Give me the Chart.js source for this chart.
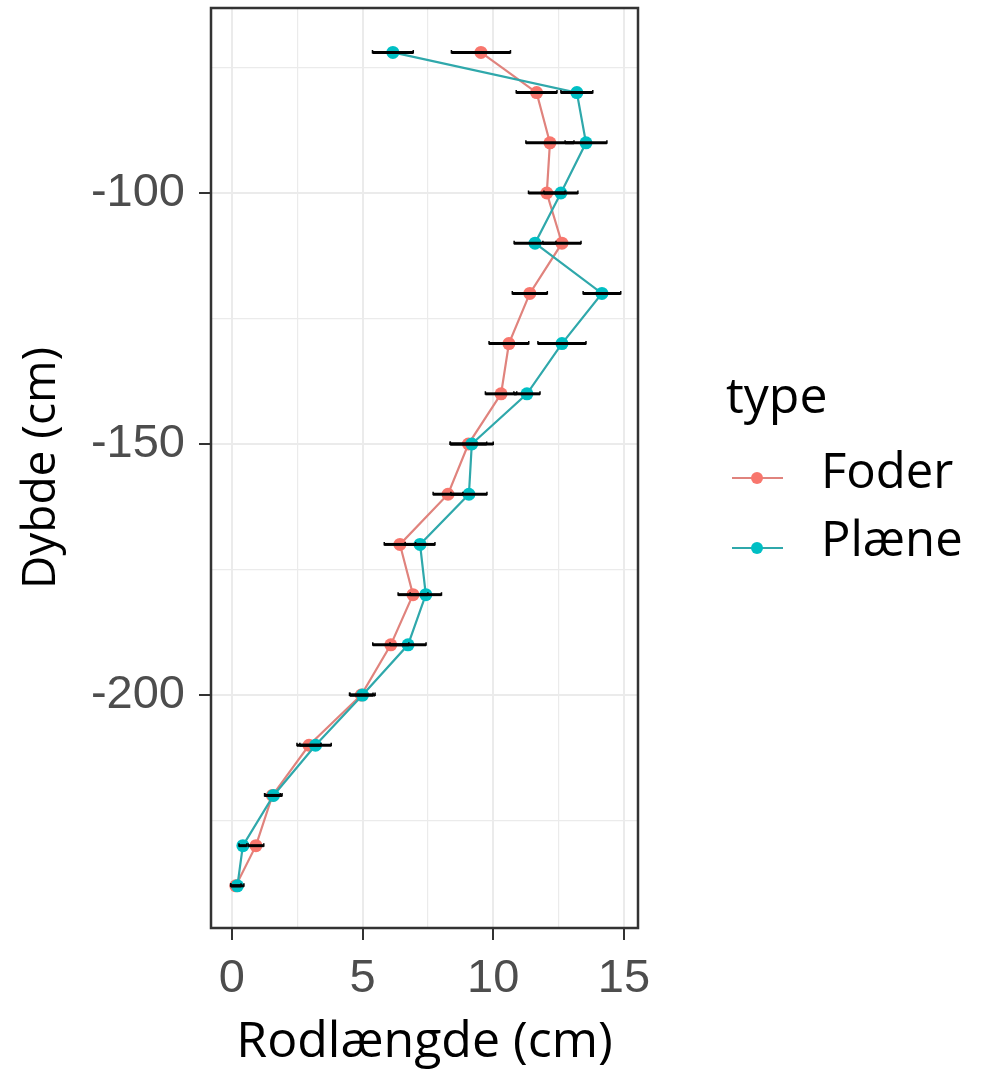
<!DOCTYPE html>
<html>
<head>
<meta charset="utf-8">
<script src="https://cdn.jsdelivr.net/npm/chart.js@4.4.1/dist/chart.umd.min.js"></script>
<style>
  html, body { margin: 0; padding: 0; background: #ffffff; }
  #rootChart { display: block; }
</style>
</head>
<body>
<canvas id="rootChart" width="983" height="1073"></canvas>
<script>
// depth (cm) for each sample layer
var depth = [-72, -80, -90, -100, -110, -120, -130, -140, -150, -160, -170, -180, -190, -200, -210, -220, -230, -238];

// mean root length and standard error per layer
var foder = [9.53, 11.66, 12.17, 12.05, 12.63, 11.4, 10.6, 10.3, 9.05, 8.27, 6.43, 6.93, 6.08, 4.95, 2.95, 1.55, 0.92, 0.15];
var foderSe = [1.13, 0.78, 0.92, 0.7, 0.73, 0.67, 0.76, 0.6, 0.7, 0.57, 0.6, 0.57, 0.69, 0.45, 0.46, 0.3, 0.3, 0.2];
var plaene = [6.16, 13.2, 13.55, 12.59, 11.6, 14.16, 12.63, 11.29, 9.18, 9.07, 7.2, 7.42, 6.74, 5.0, 3.2, 1.59, 0.42, 0.21];
var plaeneSe = [0.78, 0.61, 0.8, 0.65, 0.8, 0.72, 0.92, 0.5, 0.82, 0.69, 0.57, 0.6, 0.69, 0.48, 0.6, 0.33, 0.15, 0.25];

// axis breaks
var xBreaks = [0, 5, 10, 15];
var xMinor = [2.5, 7.5, 12.5];
var yBreaks = [-200, -150, -100];
var yMinor = [-225, -175, -125, -75];

var typeTitle = 'type';
var typeNames = ['Foder', 'Plæne'];
var typeColors = ['#F8766D', '#00BFC4'];
var lineColors = ['#E0837D', '#2FA8AB'];

function toPoints(xs) {
  return xs.map(function (v, i) { return { x: v, y: depth[i] }; });
}

function breakTicks(major, minor) {
  return major.concat(minor).sort(function (a, b) { return a - b; })
    .map(function (v) { return { value: v }; });
}

function isMajor(list, v) {
  return list.indexOf(v) !== -1;
}

// grey panel box on top of the grid
var panelBorder = {
  id: 'panelBorder',
  afterDatasetsDraw: function (chart) {
    var a = chart.chartArea;
    var ctx = chart.ctx;
    ctx.save();
    ctx.strokeStyle = '#333333';
    ctx.lineWidth = 2.5;
    ctx.strokeRect(a.left, a.top, a.right - a.left, a.bottom - a.top);
    ctx.restore();
  }
};

// horizontal error bars (mean +/- se)
var errorBars = {
  id: 'errorBars',
  afterDatasetsDraw: function (chart) {
    var ctx = chart.ctx;
    var xs = chart.scales.x;
    var ys = chart.scales.y;
    var sets = [[foder, foderSe], [plaene, plaeneSe]];
    ctx.save();
    ctx.strokeStyle = '#000000';
    sets.forEach(function (s) {
      s[0].forEach(function (m, i) {
        var x0 = xs.getPixelForValue(m - s[1][i]);
        var x1 = xs.getPixelForValue(m + s[1][i]);
        var y = ys.getPixelForValue(depth[i]);
        ctx.lineWidth = 3;
        ctx.beginPath();
        ctx.moveTo(x0, y);
        ctx.lineTo(x1, y);
        ctx.stroke();
        // tiny end caps
        ctx.lineWidth = 1.5;
        ctx.beginPath();
        ctx.moveTo(x0, y - 2.5);
        ctx.lineTo(x0, y + 1);
        ctx.moveTo(x1, y - 2.5);
        ctx.lineTo(x1, y + 1);
        ctx.stroke();
      });
    });
    ctx.restore();
  }
};

// legend on the right: title + line/point keys
var typeLegend = {
  id: 'typeLegend',
  afterDraw: function (chart) {
    var ctx = chart.ctx;
    ctx.save();
    ctx.fillStyle = '#000000';
    ctx.textAlign = 'left';
    ctx.textBaseline = 'alphabetic';
    ctx.font = '50px "Open Sans"';
    ctx.fillText(typeTitle, 726, 413);
    var rows = [478, 548];
    var base = [488, 556];
    typeNames.forEach(function (name, i) {
      ctx.strokeStyle = lineColors[i];
      ctx.lineWidth = 2.2;
      ctx.beginPath();
      ctx.moveTo(732, rows[i]);
      ctx.lineTo(783, rows[i]);
      ctx.stroke();
      ctx.fillStyle = typeColors[i];
      ctx.beginPath();
      ctx.arc(757, rows[i], 6, 0, Math.PI * 2);
      ctx.fill();
      ctx.fillStyle = '#000000';
      ctx.font = '49px "Open Sans"';
      ctx.fillText(name, 821, base[i]);
    });
    ctx.restore();
  }
};

var ctx = document.getElementById('rootChart').getContext('2d');

var rootChart = new Chart(ctx, {
  type: 'scatter',
  data: {
    datasets: [
      {
        label: typeNames[0],
        data: toPoints(foder),
        showLine: true,
        borderColor: lineColors[0],
        backgroundColor: typeColors[0],
        borderWidth: 2.2,
        pointRadius: 6.5,
        pointBorderWidth: 0,
        order: 1,
      },
      {
        label: typeNames[1],
        data: toPoints(plaene),
        showLine: true,
        borderColor: lineColors[1],
        backgroundColor: typeColors[1],
        borderWidth: 2.2,
        pointRadius: 6.5,
        pointBorderWidth: 0,
        order: 0,
      },
    ],
  },
  options: {
    responsive: false,
    animation: false,
    devicePixelRatio: 1,
    layout: { padding: { top: 8, right: 345, left: 0, bottom: 0 } },
    plugins: {
      legend: { display: false },
      tooltip: { enabled: false },
    },
    scales: {
      x: {
        type: 'linear',
        min: -0.8,
        max: 15.54,
        afterBuildTicks: function (scale) { scale.ticks = breakTicks(xBreaks, xMinor); },
        afterFit: function (scale) {
          scale.height = 145;
          scale.paddingLeft = 0;
          scale.paddingRight = 0;
        },
        border: { display: false },
        grid: {
          color: '#EBEBEB',
          lineWidth: function (c) { return isMajor(xBreaks, c.tick.value) ? 2 : 1.2; },
          tickColor: function (c) { return isMajor(xBreaks, c.tick.value) ? '#333333' : 'rgba(0,0,0,0)'; },
          tickLength: 12,
          tickWidth: 2,
        },
        ticks: {
          autoSkip: false,
          maxRotation: 0,
          padding: 11,
          color: '#4D4D4D',
          font: { family: '"Liberation Sans", Arial', size: 47 },
          callback: function (v) { return isMajor(xBreaks, v) ? String(v) : ''; },
        },
        title: {
          display: true,
          text: 'Rodlængde (cm)',
          color: '#000000',
          font: { family: '"Open Sans"', size: 50 },
          padding: { top: 0, bottom: 0 },
        },
      },
      y: {
        type: 'linear',
        min: -246.4,
        max: -63.15,
        afterBuildTicks: function (scale) { scale.ticks = breakTicks(yBreaks, yMinor); },
        afterFit: function (scale) {
          scale.width = 211;
          scale.paddingTop = 0;
          scale.paddingBottom = 0;
        },
        border: { display: false },
        grid: {
          color: '#EBEBEB',
          lineWidth: function (c) { return isMajor(yBreaks, c.tick.value) ? 2 : 1.2; },
          tickColor: function (c) { return isMajor(yBreaks, c.tick.value) ? '#333333' : 'rgba(0,0,0,0)'; },
          tickLength: 12,
          tickWidth: 2,
        },
        ticks: {
          autoSkip: false,
          padding: 14,
          color: '#4D4D4D',
          font: { family: '"Liberation Sans", Arial', size: 47 },
          callback: function (v) { return isMajor(yBreaks, v) ? String(v) : ''; },
        },
        title: {
          display: true,
          text: 'Dybde (cm)',
          color: '#000000',
          font: { family: '"Open Sans"', size: 46 },
          padding: { top: 14, bottom: 0 },
        },
      },
    },
  },
  plugins: [panelBorder, errorBars, typeLegend],
});
</script>
</body>
</html>
